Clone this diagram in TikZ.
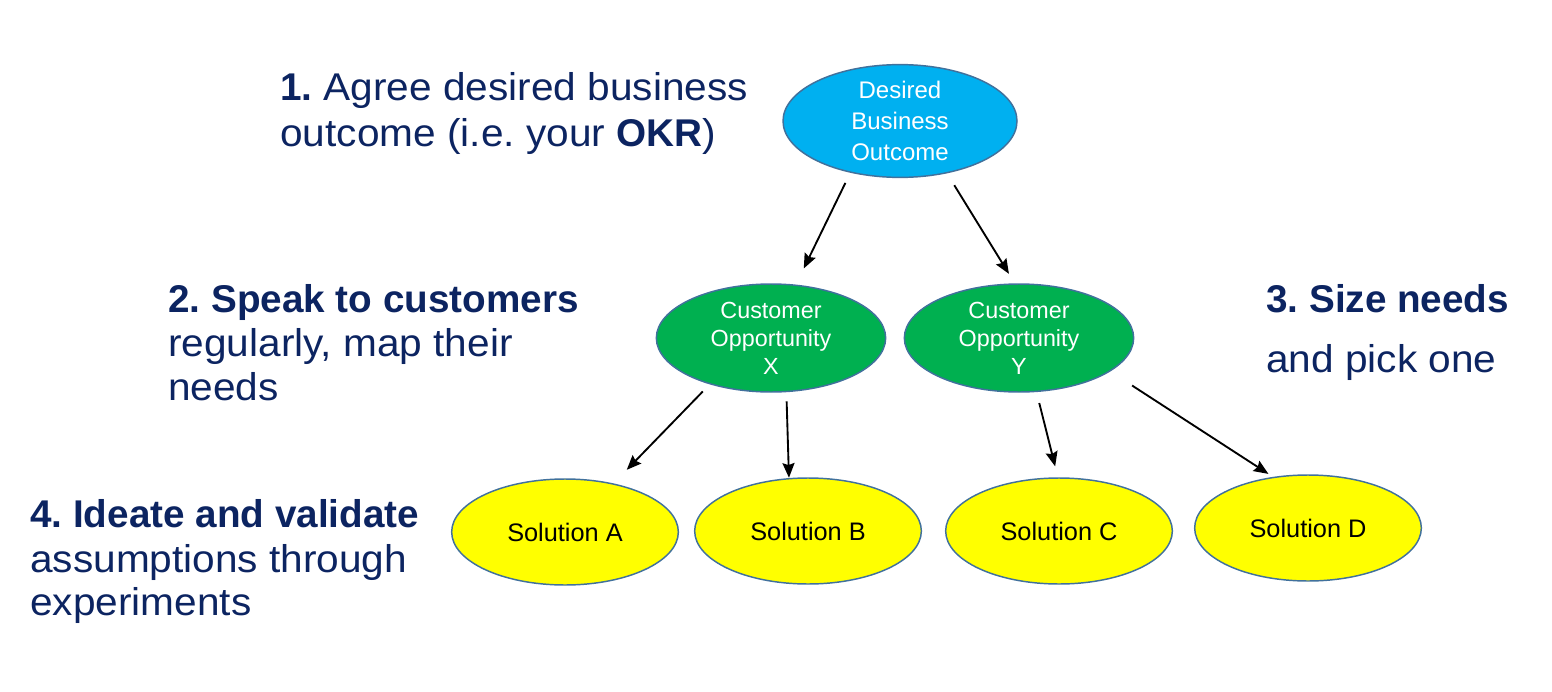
\documentclass[tikz,border=0pt]{standalone}
\usepackage{fontspec}
\setmainfont{Liberation Sans}
\newfontfamily\widefont[FakeStretch=1.05]{Liberation Sans}
\newfontfamily\plainbold{Liberation Sans Bold}
\newcommand\bft[1]{{\plainbold #1}}
\usetikzlibrary{arrows.meta,shapes.geometric}
\definecolor{navy}{HTML}{0C2461}
\definecolor{edge}{HTML}{41719C}
\definecolor{topfill}{HTML}{00B0F0}
\definecolor{oppfill}{HTML}{00B050}
\definecolor{solfill}{HTML}{FFFF00}
\frenchspacing
\tikzset{
  oval/.style={ellipse, draw=edge, line width=1.1pt, inner sep=0pt, outer sep=0pt, align=center},
  topoval/.style={oval, fill=topfill, text=white, minimum width=175.5pt, minimum height=82.5pt, font=\fontsize{18}{23.3}\selectfont},
  oppoval/.style={oval, fill=oppfill, text=white, minimum width=172pt, minimum height=81pt, font=\fontsize{17.5}{21}\selectfont},
  soloval/.style={oval, fill=solfill, text=black, minimum width=170pt, minimum height=79.5pt, font=\fontsize{19}{22}\selectfont},
  arr/.style={-{Stealth[length=11pt,width=9pt,inset=1.5pt]}, line width=1.4pt, black},
  lbl/.style={anchor=base west, inner sep=0pt, text=navy, font=\fontsize{29}{33}\selectfont\widefont},
}
\begin{document}
\begin{tikzpicture}[x=0.75pt, y=-0.75pt]
\useasboundingbox (0,0) rectangle (1552,692);
% nodes
\node[topoval] (top) at (900,121) {Desired\\Business\\Outcome};
\node[oppoval] (ox) at (771,338) {Customer\\Opportunity\\X};
\node[oppoval] (oy) at (1019,338) {Customer\\Opportunity\\Y};
\node[soloval] (sa) at (565,532) {Solution A};
\node[soloval] (sb) at (808,531) {Solution B};
\node[soloval] (sc) at (1059,531) {Solution C};
\node[soloval] (sd) at (1308,528) {Solution D};
% connectors
\draw[arr, shorten <=9pt, shorten >=14pt] (top.226) -- (ox.65);
\draw[arr, shorten <=11pt, shorten >=9pt] (top.312) -- (oy.94);
\draw[arr, shorten <=8pt, shorten >=14.8pt] (ox.217) -- (sa.45);
\draw[arr, shorten <=7.4pt, shorten >=0.75pt] (ox.286) -- (sb.110);
\draw[arr, shorten <=9pt, shorten >=9pt] (oy.288) -- (sc.91);
\draw[arr, shorten <=20pt, shorten >=4.9pt] (oy.340) -- (sd.124);
% labels
\node[lbl] (l1a) at (280,100) {\bft{1.} Agree desired business};
\node[lbl] (l1b) at (280,146) {outcome (i.e. your \bft{OKR})};
\node[lbl] (l2a) at (168,312) {\bft{2. Speak to customers}};
\node[lbl] (l2b) at (168,356) {regularly, map their};
\node[lbl] (l2c) at (168,400) {needs};
\node[lbl] (l3a) at (1266,312) {\bft{3. Size needs}};
\node[lbl] (l3b) at (1266,372) {and pick one};
\node[lbl] (l4a) at (30,527) {\bft{4. Ideate and validate}};
\node[lbl] (l4b) at (30,572) {assumptions through};
\node[lbl] (l4c) at (30,615) {experiments};
\end{tikzpicture}
\end{document}
